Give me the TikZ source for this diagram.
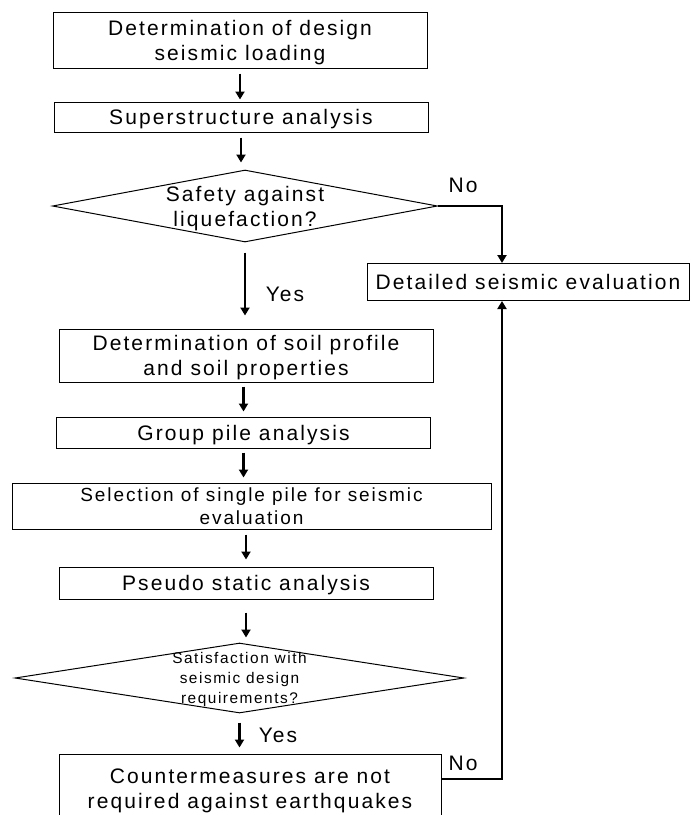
\documentclass[tikz,border=0pt]{standalone}
\usepackage{fontspec}
\setmainfont{Liberation Sans}[LetterSpace=10]
\usetikzlibrary{shapes.geometric,arrows.meta}

\tikzset{
    box/.style={draw, line width=0.5pt, inner sep=0pt, align=center, text depth=-4pt, font=\fontsize{10.5}{12.5}\selectfont},
    test/.style={draw, diamond, line width=0.5pt, inner sep=-3pt, align=center, text depth=-6pt},
    arr/.style={-{Triangle[length=4pt,width=4.5pt]}, line width=1.1pt},
    lbl/.style={font=\fontsize{10.5}{12.5}\selectfont},
}

\begin{document}
\begin{tikzpicture}[x=0.5pt,y=-0.5pt]
    \clip (0,0) rectangle (691,815);
    \node[box, minimum width=187pt, minimum height=28pt] (load) at (240,40) {Determination of design\\seismic loading};
    \node[box, minimum width=187pt, minimum height=15pt] (super) at (241,117) {Superstructure analysis};
    \node[test, minimum width=192.5pt, minimum height=36pt, shape aspect=5.35, font=\fontsize{10.5}{12.5}\selectfont] (liq) at (245,206) {Safety against\\liquefaction?};
    \node[box, minimum width=161pt, minimum height=18.5pt] (detail) at (528,282) {Detailed seismic evaluation};
    \node[box, minimum width=187pt, minimum height=26.5pt] (soil) at (246,355.5) {Determination of soil profile\\and soil properties};
    \node[box, minimum width=187pt, minimum height=15.5pt] (group) at (243.5,432.5) {Group pile analysis};
    \node[box, minimum width=239.5pt, minimum height=23pt, font=\fontsize{9.5}{11.5}\selectfont] (single) at (251.5,506) {Selection of single pile for seismic\\evaluation};
    \node[box, minimum width=187pt, minimum height=16pt] (pseudo) at (246,583) {Pseudo static analysis};
    \node[test, minimum width=224.5pt, minimum height=35pt, shape aspect=6.41, font=\fontsize{7.7}{10}\selectfont] (req) at (239.5,678) {Satisfaction with\\seismic design\\requirements?};
    \node[box, minimum width=191pt, minimum height=35pt] (counter) at (250,789) {Countermeasures are not\\required against earthquakes};
    \coordinate (rt) at (502,0);

    \draw[arr, shorten <=2.5pt, shorten >=1pt] (load) -- (load |- super.north);
    \draw[arr, shorten <=2.5pt, shorten >=3.5pt] (super) -- (super |- liq.north);
    \draw[arr, shorten <=5pt, shorten >=6.5pt] (liq) -- (liq |- soil.north);
    \draw[arr, shorten <=2pt, shorten >=2.5pt] (group |- soil.south) -- (group);
    \draw[arr, shorten <=2pt, shorten >=2.5pt] (group) -- (group |- single.north);
    \draw[arr, shorten <=2.5pt, shorten >=3.5pt] (pseudo |- single.south) -- (pseudo);
    \draw[arr, shorten <=6.5pt, shorten >=2.5pt] (pseudo) -- (pseudo |- req.north);
    \draw[arr, shorten <=4.5pt, shorten >=3pt] (req) -- (req |- counter.north);
    \draw[arr] (liq.east) -| (rt |- detail.north);
    \draw[arr] ([yshift=5pt]counter.east) -| (rt |- detail.south);

    \node[lbl] (yes1) at (285,294) {Yes};
    \node[lbl] (no1) at (463,185) {No};
    \node[lbl] (yes2) at (278,735) {Yes};
    \node[lbl] (no2) at (463,763) {No};
\end{tikzpicture}
\end{document}
